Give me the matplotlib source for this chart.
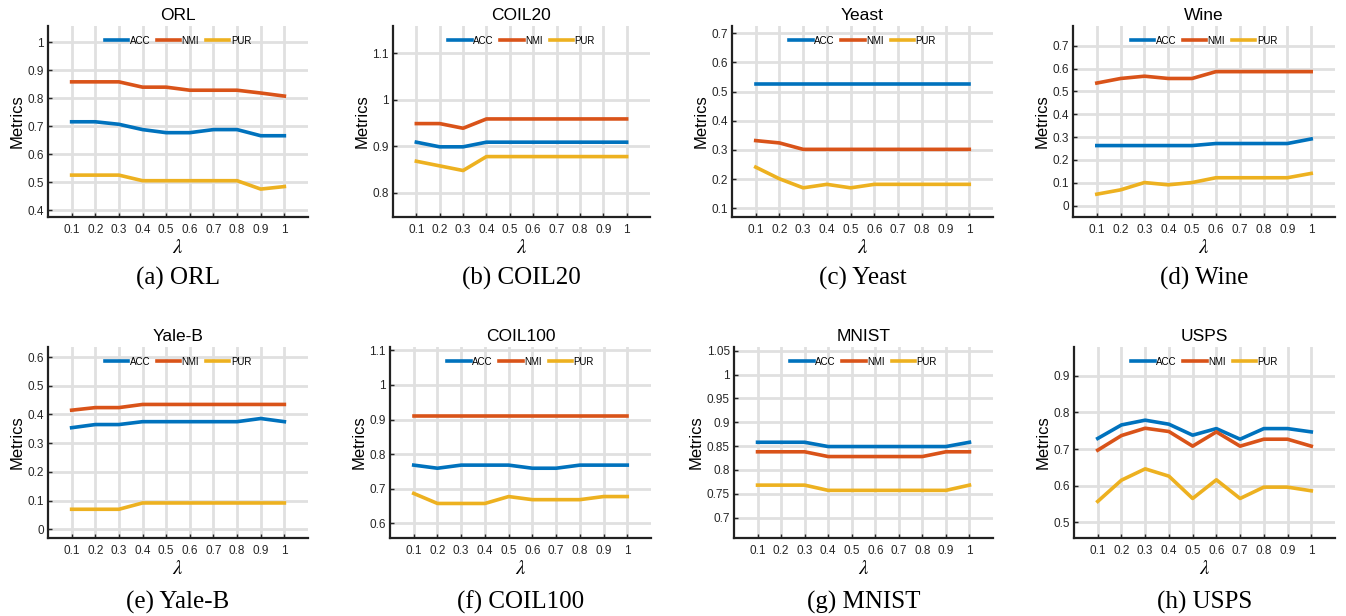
import matplotlib
matplotlib.use("Agg")
from matplotlib import pyplot as plt
from matplotlib.ticker import FuncFormatter

plt.rcParams["mathtext.fontset"] = "stix"

lam = [0.1, 0.2, 0.3, 0.4, 0.5, 0.6, 0.7, 0.8, 0.9, 1.0]

names = ["ORL", "COIL20", "Yeast", "Wine", "Yale-B", "COIL100", "MNIST", "USPS"]
letters = ["a", "b", "c", "d", "e", "f", "g", "h"]

orl_acc = [0.716, 0.716, 0.707, 0.688, 0.677, 0.677, 0.688, 0.688, 0.666, 0.666]
orl_nmi = [0.859, 0.859, 0.859, 0.840, 0.840, 0.829, 0.829, 0.829, 0.819, 0.808]
orl_pur = [0.525, 0.525, 0.525, 0.505, 0.505, 0.505, 0.505, 0.505, 0.475, 0.484]

coil20_acc = [0.909, 0.899, 0.899, 0.909, 0.909, 0.909, 0.909, 0.909, 0.909, 0.909]
coil20_nmi = [0.949, 0.949, 0.939, 0.959, 0.959, 0.959, 0.959, 0.959, 0.959, 0.959]
coil20_pur = [0.868, 0.858, 0.848, 0.878, 0.878, 0.878, 0.878, 0.878, 0.878, 0.878]

yeast_acc = [0.525] * 10
yeast_nmi = [0.332, 0.324, 0.302, 0.302, 0.302, 0.302, 0.302, 0.302, 0.302, 0.302]
yeast_pur = [0.241, 0.201, 0.170, 0.182, 0.170, 0.182, 0.182, 0.182, 0.182, 0.182]

wine_acc = [0.263, 0.263, 0.263, 0.263, 0.263, 0.272, 0.272, 0.272, 0.272, 0.292]
wine_nmi = [0.537, 0.557, 0.567, 0.557, 0.557, 0.587, 0.587, 0.587, 0.587, 0.587]
wine_pur = [0.050, 0.069, 0.101, 0.091, 0.101, 0.122, 0.122, 0.122, 0.122, 0.141]

yale_acc = [0.354, 0.365, 0.365, 0.375, 0.375, 0.375, 0.375, 0.375, 0.386, 0.375]
yale_nmi = [0.415, 0.424, 0.424, 0.435, 0.435, 0.435, 0.435, 0.435, 0.435, 0.435]
yale_pur = [0.070, 0.070, 0.070, 0.092, 0.092, 0.092, 0.092, 0.092, 0.092, 0.092]

coil100_acc = [0.768, 0.759, 0.768, 0.768, 0.768, 0.759, 0.759, 0.768, 0.768, 0.768]
coil100_nmi = [0.910] * 10
coil100_pur = [0.686, 0.657, 0.657, 0.657, 0.677, 0.668, 0.668, 0.668, 0.677, 0.677]

mnist_acc = [0.858, 0.858, 0.858, 0.849, 0.849, 0.849, 0.849, 0.849, 0.849, 0.858]
mnist_nmi = [0.838, 0.838, 0.838, 0.828, 0.828, 0.828, 0.828, 0.828, 0.838, 0.838]
mnist_pur = [0.768, 0.768, 0.768, 0.757, 0.757, 0.757, 0.757, 0.757, 0.757, 0.768]

usps_acc = [0.729, 0.766, 0.779, 0.768, 0.738, 0.756, 0.727, 0.756, 0.756, 0.747]
usps_nmi = [0.697, 0.737, 0.757, 0.748, 0.708, 0.747, 0.708, 0.727, 0.727, 0.708]
usps_pur = [0.557, 0.615, 0.646, 0.626, 0.565, 0.616, 0.565, 0.596, 0.596, 0.586]

acc_all = [orl_acc, coil20_acc, yeast_acc, wine_acc, yale_acc, coil100_acc, mnist_acc, usps_acc]
nmi_all = [orl_nmi, coil20_nmi, yeast_nmi, wine_nmi, yale_nmi, coil100_nmi, mnist_nmi, usps_nmi]
pur_all = [orl_pur, coil20_pur, yeast_pur, wine_pur, yale_pur, coil100_pur, mnist_pur, usps_pur]

yticks_all = [
    [0.4, 0.5, 0.6, 0.7, 0.8, 0.9, 1.0],
    [0.8, 0.9, 1.0, 1.1],
    [0.1, 0.2, 0.3, 0.4, 0.5, 0.6, 0.7],
    [0.0, 0.1, 0.2, 0.3, 0.4, 0.5, 0.6, 0.7],
    [0.0, 0.1, 0.2, 0.3, 0.4, 0.5, 0.6],
    [0.6, 0.7, 0.8, 0.9, 1.0, 1.1],
    [0.7, 0.75, 0.8, 0.85, 0.9, 0.95, 1.0, 1.05],
    [0.5, 0.6, 0.7, 0.8, 0.9],
]

# axes boxes in pixels: left, right, top, bottom
W, H = 1346, 616
boxes = [
    (48, 308, 26, 217), (393, 650, 26, 217), (732, 993, 26, 217), (1073, 1335, 26, 217),
    (48, 308, 347, 538), (390, 651, 347, 538), (734, 993, 347, 538), (1074, 1335, 347, 538),
]

blue, red, yellow = "#0072BD", "#D95319", "#EDB120"
sans = "Liberation Sans"

fig = plt.figure(figsize=(W / 100, H / 100), dpi=100)

fmt = FuncFormatter(lambda v, p: "%g" % round(v, 3))

for i in range(8):
    l, r, t, b = boxes[i]
    ax = fig.add_axes([l / W, 1 - b / H, (r - l) / W, (b - t) / H])
    acc, nmi, pur = acc_all[i], nmi_all[i], pur_all[i]
    ax.plot(lam, acc, color=blue, lw=2.6, label="ACC")
    ax.plot(lam, nmi, color=red, lw=2.6, label="NMI")
    ax.plot(lam, pur, color=yellow, lw=2.6, label="PUR")
    lo = min(acc + nmi + pur) - 0.1
    hi = max(acc + nmi + pur) + 0.2
    ax.set_ylim(lo, hi)
    ax.set_xlim(0, 1.1)
    ax.set_xticks(lam)
    ax.set_yticks(yticks_all[i])
    ax.xaxis.set_major_formatter(fmt)
    ax.yaxis.set_major_formatter(fmt)
    ax.grid(True, color="#e0e0e0", lw=2)
    ax.set_axisbelow(True)
    for s in ["top", "right"]:
        ax.spines[s].set_visible(False)
    for s in ["left", "bottom"]:
        ax.spines[s].set_linewidth(1.6)
        ax.spines[s].set_color("#222222")
    ax.tick_params(direction="in", length=3, width=1, labelsize=8.5,
                   colors="#262626")
    ax.tick_params(axis="x", pad=5)
    ax.tick_params(axis="y", pad=3)
    for lbl in ax.get_xticklabels() + ax.get_yticklabels():
        lbl.set_family(sans)
    ax.set_title(names[i], fontsize=12.5, family=sans, pad=4)
    ax.set_ylabel("Metrics", fontsize=12, family=sans, labelpad=2)
    ax.set_xlabel(r"$\lambda$", fontsize=15, labelpad=1)
    ax.legend(loc="upper center", ncol=3, frameon=False,
              handlelength=2.4, handletextpad=0.15, columnspacing=0.7,
              borderaxespad=0.6, prop={"family": sans, "size": 7})
    fig.text((l + r) / 2 / W, 1 - (278 if i < 4 else 602) / H,
             "(%s) %s" % (letters[i], names[i]), ha="center", va="center",
             fontsize=18, family="Liberation Serif")

fig.savefig("out.png", dpi=100)
